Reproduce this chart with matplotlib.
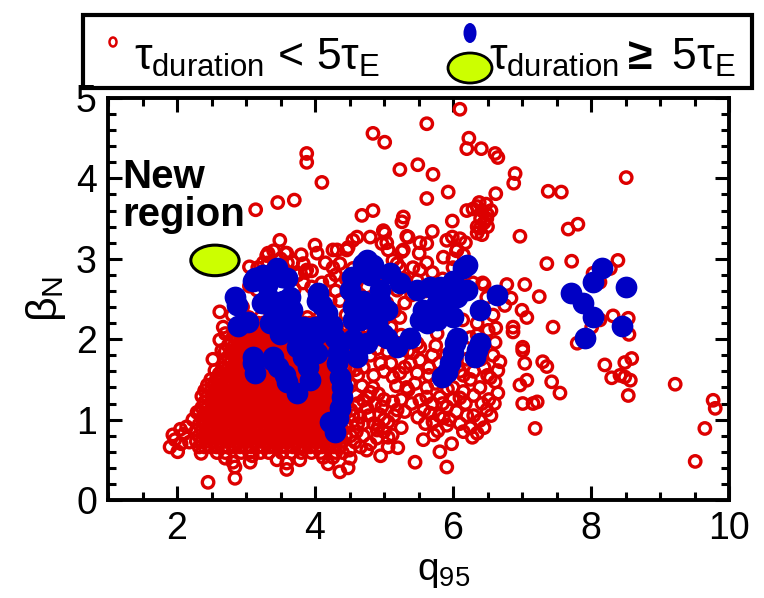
import numpy as np
import matplotlib
matplotlib.use('Agg')
import matplotlib.pyplot as plt
from matplotlib.patches import Ellipse, Rectangle
from matplotlib.ticker import MultipleLocator

plt.rcParams['font.family'] = ['Liberation Sans Narrow', 'Liberation Sans']
plt.rcParams['mathtext.fontset'] = 'custom'
plt.rcParams['mathtext.rm'] = 'Liberation Sans'
plt.rcParams['mathtext.it'] = 'Liberation Sans'
plt.rcParams['mathtext.bf'] = 'Liberation Sans:bold'

RED = '#dd0000'
BLUE = '#0000c4'
LIME = '#ccff00'

# short discharges (duration < 5 tau_E), upper part of the cloud
red_top_q = [6.10, 5.62, 6.23, 6.20, 6.41, 6.61, 6.65, 5.49, 5.71, 6.90,
             6.88, 8.51, 7.38, 7.57, 5.93, 5.62, 6.62, 6.35, 6.42, 6.50,
             6.40, 6.45, 6.38, 6.48, 6.55, 6.35, 6.42, 6.50, 6.20, 5.99,
             5.70, 5.33, 5.28, 5.28, 5.99, 6.10, 6.18, 6.05, 6.15, 6.00,
             6.35, 6.97, 7.67, 7.81, 5.23, 5.51, 5.86, 4.84, 5.01, 3.88,
             3.88, 4.10, 3.46, 3.70, 3.14, 4.68, 4.84, 5.26, 3.49, 5.35,
             4.99, 4.61, 4.80, 4.00, 4.26, 3.30, 3.57, 4.48, 5.04, 5.26,
             5.52, 4.55, 5.01, 4.97, 4.32, 4.46, 5.06, 5.62, 5.91, 6.06,
             6.29, 6.39, 6.49, 3.32, 3.59, 4.03]
red_top_b = [4.86, 4.68, 4.50, 4.37, 4.37, 4.31, 4.26, 4.17, 4.05, 4.06,
             3.94, 4.01, 3.84, 3.83, 3.83, 3.75, 3.81, 3.65, 3.60, 3.55,
             3.50, 3.45, 3.70, 3.68, 3.60, 3.40, 3.30, 3.40, 3.60, 3.47,
             3.34, 3.28, 3.52, 3.11, 3.27, 3.25, 3.20, 3.10, 3.05, 3.00,
             3.32, 3.28, 3.37, 3.43, 4.11, 3.07, 3.02, 4.56, 4.45, 4.31,
             4.20, 3.95, 3.70, 3.73, 3.61, 3.54, 3.60, 3.46, 3.23, 3.27,
             3.35, 3.27, 3.27, 3.17, 3.11, 3.04, 3.07, 3.14, 3.20, 3.09,
             3.20, 3.23, 3.32, 3.19, 3.11, 3.11, 3.11, 3.19, 3.23, 3.11,
             3.62, 3.38, 3.50, 3.07, 3.07, 3.07]

# short discharges, middle band
red_mid_q = [7.36, 7.72, 8.39, 5.70, 3.17, 3.83, 3.86, 4.36, 4.55, 5.19,
             5.42, 3.16, 2.62, 2.80, 6.00, 4.26, 4.22, 5.13, 5.23, 5.52,
             5.62, 5.48, 5.04, 5.19, 6.29, 6.43, 6.49, 6.58, 6.51, 6.62,
             6.14, 6.35, 6.25, 5.77, 5.42, 5.23, 5.04, 4.84, 4.36, 4.22,
             3.68, 3.88, 3.83, 3.05, 2.67, 2.62, 2.65, 2.70, 6.45, 6.78,
             7.04, 7.25, 6.84, 6.75, 7.00, 7.07, 8.32, 8.54, 8.55, 8.13,
             8.01, 7.45, 6.87, 6.87, 6.61, 7.01, 7.80, 8.28, 8.03, 8.13,
             6.35, 4.65, 4.75, 4.55, 4.45, 4.95, 5.30, 5.40, 5.60, 5.75,
             5.85, 6.10, 6.05, 5.95, 5.85, 6.00, 4.40, 4.45, 4.60, 4.30,
             3.32, 3.95, 3.70]
red_mid_b = [2.94, 2.97, 2.98, 2.83, 2.89, 2.94, 2.83, 2.94, 2.88, 2.94,
             2.89, 2.61, 2.34, 2.30, 2.89, 2.89, 2.73, 2.98, 2.89, 2.86,
             2.95, 2.73, 2.77, 2.61, 2.70, 2.70, 2.52, 2.30, 2.11, 2.14,
             2.24, 2.20, 2.02, 2.07, 1.99, 2.27, 2.45, 2.36, 2.48, 2.48,
             2.96, 2.86, 2.70, 2.66, 2.15, 1.99, 1.86, 2.07, 2.68, 2.68,
             2.68, 2.53, 2.51, 2.42, 2.36, 2.27, 2.29, 2.26, 2.06, 2.24,
             2.15, 2.15, 2.15, 2.09, 1.96, 1.90, 1.95, 2.88, 2.82, 2.71,
             2.05, 2.55, 2.65, 2.62, 2.75, 2.70, 2.75, 2.55, 2.60, 2.65,
             2.75, 2.75, 2.55, 2.45, 2.30, 2.25, 2.10, 2.30, 2.45, 2.60,
             2.95, 2.65, 2.62]

# short discharges, lower band and edges of the dense core
red_low_q = [7.01, 7.04, 6.68, 6.61, 6.65, 6.49, 6.39, 6.35, 5.91, 5.81,
             5.91, 5.45, 5.57, 5.72, 5.49, 7.30, 7.36, 7.43, 7.55, 7.07,
             6.97, 7.01, 7.16, 7.22, 7.19, 8.20, 8.30, 8.42, 8.49, 8.57,
             8.54, 8.49, 8.59, 9.22, 9.77, 9.80, 9.65, 9.51, 6.45, 6.65,
             4.26, 4.36, 4.48, 4.51, 4.75, 5.06, 5.06, 5.12, 5.06, 5.19,
             5.13, 4.94, 4.87, 4.80, 5.23, 5.35, 5.78, 5.86, 5.71, 5.67,
             5.62, 5.81, 5.91, 6.10, 6.00, 6.30, 6.42, 6.28, 6.52, 6.39,
             6.54, 6.58, 5.48, 5.52, 5.42, 5.52, 4.90, 4.90, 4.65, 4.70,
             4.84, 4.97, 5.13, 5.33, 5.62, 5.52, 2.55, 2.29, 1.94, 1.90,
             2.01, 1.97, 2.14, 2.23, 2.45, 2.84, 2.84, 2.81, 3.06, 3.09,
             2.70, 3.45, 3.59, 3.78, 3.59, 4.12, 4.19, 2.06, 2.10, 2.18,
             2.05, 4.45, 4.55, 4.62, 4.50, 4.60, 4.45, 4.55, 4.45, 4.60,
             4.70, 4.75, 4.85, 4.95, 5.05, 4.95, 4.85, 5.10, 5.25, 5.35,
             5.30, 5.70, 5.80, 5.95, 6.10, 6.20, 6.25, 6.15, 6.05, 6.20,
             5.95, 6.25, 5.65, 5.75, 5.85, 2.35, 2.52, 2.58]
red_low_b = [1.86, 1.70, 1.72, 1.47, 1.33, 1.12, 0.99, 0.83, 0.93, 0.60,
             0.41, 0.47, 0.75, 0.81, 1.03, 1.72, 1.66, 1.47, 1.33, 1.49,
             1.43, 1.20, 1.20, 1.22, 0.89, 1.68, 1.52, 1.55, 1.53, 1.49,
             1.30, 1.71, 1.76, 1.44, 1.24, 1.14, 0.89, 0.48, 1.65, 1.61,
             0.53, 0.35, 0.40, 0.52, 0.62, 0.66, 0.78, 0.81, 0.97, 1.12,
             1.22, 1.06, 1.20, 1.34, 1.58, 1.37, 0.86, 1.02, 0.97, 1.08,
             1.28, 1.28, 1.16, 1.27, 1.40, 1.05, 1.20, 0.78, 1.25, 1.40,
             1.52, 1.80, 1.58, 1.74, 1.83, 1.90, 0.77, 0.87, 1.03, 1.24,
             1.40, 1.16, 1.53, 1.40, 1.40, 1.24, 1.61, 1.09, 0.81, 0.66,
             0.60, 0.75, 0.91, 1.00, 0.22, 0.27, 0.41, 0.47, 0.47, 0.55,
             0.52, 0.50, 0.46, 0.50, 0.38, 0.53, 0.45, 0.70, 0.82, 0.72,
             0.88, 1.90, 1.75, 1.55, 1.45, 1.30, 1.20, 1.05, 0.90, 0.85,
             0.95, 1.15, 1.55, 1.70, 1.85, 2.00, 2.10, 2.15, 2.05, 1.85,
             1.65, 1.80, 1.70, 1.55, 1.60, 1.75, 1.50, 1.35, 1.10, 1.05,
             1.00, 0.90, 1.55, 1.45, 1.20, 0.58, 1.75, 1.52]

# short discharges crowding the q95 = 4.4-6.6 band and the top of the core
red_fill_q = [4.50, 4.58, 4.66, 4.52, 4.62, 4.70, 4.80, 4.85, 4.78, 4.92,
              5.00, 5.00, 4.92, 4.78, 4.68, 4.58, 4.70, 4.80, 4.68, 4.90,
              5.00, 5.10, 5.18, 5.25, 5.30, 5.40, 5.45, 5.38, 5.48, 5.20,
              4.52, 4.62, 4.50, 4.55, 4.48, 4.62, 4.75, 5.00, 5.15, 5.30,
              5.15, 5.25, 5.00, 4.95, 5.20, 5.58, 5.70, 5.80, 5.65, 5.75,
              5.90, 6.05, 6.15, 6.30, 6.40, 6.50, 6.30, 6.18, 6.00, 5.92,
              5.80, 6.45, 6.10, 6.55, 6.60, 5.60, 5.98, 6.15, 2.95, 3.05,
              3.25, 3.40, 3.60, 3.75, 3.95, 4.10, 4.15, 3.80, 3.50, 4.30]
red_fill_b = [0.62, 0.72, 0.66, 0.80, 0.95, 0.80, 0.70, 0.95, 1.05, 0.92,
              1.00, 1.25, 1.32, 1.28, 1.42, 1.62, 1.65, 1.80, 1.88, 1.88,
              1.60, 1.70, 1.42, 1.25, 1.10, 1.20, 1.45, 1.70, 1.95, 1.95,
              1.12, 1.20, 1.62, 1.85, 2.05, 2.12, 2.15, 2.25, 2.35, 2.45,
              1.05, 0.90, 0.85, 0.55, 0.65, 1.12, 1.20, 1.05, 1.65, 1.92,
              1.80, 1.75, 1.55, 1.60, 1.75, 1.55, 1.30, 1.20, 1.25, 1.38,
              1.55, 0.90, 0.95, 1.05, 1.20, 0.95, 0.70, 0.85, 2.40, 2.90,
              2.95, 3.10, 2.95, 2.80, 2.85, 2.70, 2.95, 3.05, 3.00, 2.80]

# dense core of short discharges: beta_N -> q95 values along that row
red_core = {
    0.59: [2.58, 2.70, 2.93, 3.05, 3.21, 3.33, 3.52, 3.66, 3.80, 3.95, 4.08, 4.30, 4.40],
    0.66: [2.32, 2.40, 2.49, 2.57, 2.66, 2.74, 2.83, 2.91, 3.00, 3.08, 3.17, 3.25, 3.34,
           3.42, 3.51, 3.59, 3.68, 3.76, 3.85, 3.93, 4.02, 4.10, 4.19, 4.27, 4.36],
    0.73: [2.28, 2.36, 2.44, 2.53, 2.61, 2.70, 2.78, 2.87, 2.95, 3.04, 3.12, 3.21, 3.29,
           3.38, 3.46, 3.55, 3.63, 3.72, 3.80, 3.89, 3.97, 4.06, 4.14, 4.23, 4.31, 4.40],
    0.80: [2.32, 2.40, 2.49, 2.57, 2.66, 2.74, 2.83, 2.91, 3.00, 3.08, 3.17, 3.25, 3.34,
           3.42, 3.51, 3.59, 3.68, 3.76, 3.85, 3.93, 4.02, 4.10, 4.19, 4.27, 4.36, 4.44],
    0.87: [2.28, 2.36, 2.44, 2.53, 2.61, 2.70, 2.78, 2.87, 2.95, 3.04, 3.12, 3.21, 3.29,
           3.38, 3.46, 3.55, 3.63, 3.72, 3.80, 3.89, 3.97, 4.06, 4.14, 4.23, 4.31, 4.40],
    0.94: [2.32, 2.40, 2.49, 2.57, 2.66, 2.74, 2.83, 2.91, 3.00, 3.08, 3.17, 3.25, 3.34,
           3.42, 3.51, 3.59, 3.68, 3.76, 3.85, 3.93, 4.02, 4.10, 4.19, 4.27, 4.36, 4.44],
    1.01: [2.36, 2.44, 2.53, 2.61, 2.70, 2.78, 2.87, 2.95, 3.04, 3.12, 3.21, 3.29,
           3.38, 3.46, 3.55, 3.63, 3.72, 3.80, 3.89, 3.97, 4.06, 4.14, 4.23, 4.31, 4.40],
    1.08: [2.32, 2.40, 2.49, 2.57, 2.66, 2.74, 2.83, 2.91, 3.00, 3.08, 3.17, 3.25, 3.34,
           3.42, 3.51, 3.59, 3.68, 3.76, 3.85, 3.93, 4.02, 4.10, 4.19, 4.27, 4.36, 4.44],
    1.15: [2.36, 2.44, 2.53, 2.61, 2.70, 2.78, 2.87, 2.95, 3.04, 3.12, 3.21, 3.29,
           3.38, 3.46, 3.55, 3.63, 3.72, 3.80, 3.89, 3.97, 4.06, 4.14, 4.23, 4.31, 4.40],
    1.22: [2.40, 2.49, 2.57, 2.66, 2.74, 2.83, 2.91, 3.00, 3.08, 3.17, 3.25, 3.34,
           3.42, 3.51, 3.59, 3.68, 3.76, 3.85, 3.93, 4.02, 4.10, 4.19, 4.27, 4.36, 4.44],
    1.29: [2.36, 2.44, 2.53, 2.61, 2.70, 2.78, 2.87, 2.95, 3.04, 3.12, 3.21, 3.29,
           3.38, 3.46, 3.55, 3.63, 3.72, 3.80, 3.89, 3.97, 4.06, 4.14, 4.23, 4.31, 4.40],
    1.36: [2.40, 2.49, 2.57, 2.66, 2.74, 2.83, 2.91, 3.00, 3.08, 3.17, 3.25, 3.34,
           3.42, 3.51, 3.59, 3.68, 3.76, 3.85, 3.93, 4.02, 4.10, 4.19, 4.27, 4.36, 4.44],
    1.43: [2.44, 2.53, 2.61, 2.70, 2.78, 2.87, 2.95, 3.04, 3.12, 3.21, 3.29,
           3.38, 3.46, 3.55, 3.63, 3.72, 3.80, 3.89, 3.97, 4.06, 4.14, 4.23, 4.31, 4.40],
    1.50: [2.49, 2.57, 2.66, 2.74, 2.83, 2.91, 3.00, 3.08, 3.17, 3.25, 3.34,
           3.42, 3.51, 3.59, 3.68, 3.76, 3.85, 3.93, 4.02, 4.10, 4.19, 4.27, 4.36, 4.44],
    1.57: [2.61, 2.70, 2.78, 2.87, 2.95, 3.04, 3.12, 3.21, 3.29,
           3.38, 3.46, 3.55, 3.63, 3.72, 3.80, 3.89, 3.97, 4.06, 4.14, 4.23, 4.31, 4.40],
    1.64: [2.66, 2.74, 2.83, 2.91, 3.00, 3.08, 3.17, 3.25, 3.34,
           3.42, 3.51, 3.59, 3.68, 3.76, 3.85, 3.93, 4.02, 4.10, 4.19, 4.27, 4.36, 4.44],
    1.71: [2.70, 2.78, 2.87, 2.95, 3.04, 3.12, 3.21, 3.29,
           3.38, 3.46, 3.55, 3.63, 3.72, 3.80, 3.89, 3.97, 4.06, 4.14, 4.23, 4.31, 4.40],
    1.78: [2.74, 2.83, 2.91, 3.00, 3.08, 3.17, 3.25, 3.34,
           3.42, 3.51, 3.59, 3.68, 3.76, 3.85, 3.93, 4.02, 4.10, 4.19, 4.27, 4.36, 4.44],
    1.85: [2.70, 2.78, 2.87, 2.95, 3.04, 3.12, 3.21, 3.29,
           3.38, 3.46, 3.55, 3.63, 3.72, 3.80, 3.89, 3.97, 4.06, 4.14, 4.23, 4.31, 4.40],
    1.92: [2.74, 2.83, 2.91, 3.00, 3.08, 3.17, 3.25, 3.34,
           3.42, 3.51, 3.59, 3.68, 3.76, 3.85, 3.93, 4.02, 4.10, 4.19, 4.27, 4.36],
    1.99: [2.78, 2.87, 2.95, 3.04, 3.12, 3.21, 3.29,
           3.38, 3.46, 3.55, 3.63, 3.72, 3.80, 3.89, 3.97, 4.06, 4.14, 4.23, 4.31],
    2.06: [2.83, 2.91, 3.00, 3.08, 3.17, 3.25, 3.34,
           3.42, 3.51, 3.59, 3.68, 3.76, 3.85, 3.93, 4.02, 4.10, 4.19, 4.27, 4.36],
    2.13: [2.87, 2.95, 3.04, 3.12, 3.21, 3.29,
           3.38, 3.46, 3.55, 3.63, 3.72, 3.80, 3.89, 3.97, 4.06, 4.14, 4.23, 4.31],
    2.20: [2.91, 3.00, 3.08, 3.17, 3.25, 3.34,
           3.42, 3.51, 3.59, 3.68, 3.76, 3.85, 3.93, 4.02, 4.10, 4.19, 4.27],
    2.27: [3.04, 3.21, 3.38, 3.55, 3.72, 3.89, 4.06, 4.23],
}

# long discharges (duration >= 5 tau_E)
blue_q = [2.84, 2.87, 2.88, 3.03, 3.13, 3.25, 3.45, 3.52, 3.59, 3.23,
          3.38, 3.54, 3.64, 3.67, 3.35, 3.49, 3.45, 3.54, 3.74, 3.83,
          4.04, 4.10, 4.00, 4.12, 3.74, 3.88, 4.03, 3.10, 3.39, 3.10,
          3.13, 3.38, 3.46, 3.57, 3.59, 3.74, 3.93, 3.90, 3.83, 3.20,
          3.10, 3.30, 3.32, 3.45, 3.64, 3.55, 3.96, 4.03, 3.88, 4.25,
          4.29, 4.33, 4.36, 4.39, 4.39, 4.36, 4.32, 4.33, 4.36, 4.29,
          4.22, 4.17, 4.22, 4.55, 4.70, 4.90, 5.04, 5.19, 5.38, 5.52,
          4.75, 4.61, 4.55, 4.70, 4.84, 4.80, 4.54, 4.51, 4.55, 4.70,
          4.94, 5.04, 4.65, 4.84, 4.90, 4.99, 4.03, 4.75, 5.09, 5.23,
          4.94, 5.48, 5.67, 5.81, 6.00, 6.14, 6.20, 5.57, 5.77, 5.91,
          6.06, 6.20, 5.62, 5.77, 6.00, 6.39, 6.64, 6.39, 6.06, 5.71,
          6.03, 6.00, 5.96, 5.91, 5.84, 6.35, 6.32, 7.71, 7.88, 8.03,
          8.16, 8.03, 8.45, 8.51, 7.91]
blue_b = [2.52, 2.42, 2.17, 2.21, 2.76, 2.80, 2.89, 2.77, 2.76, 2.45,
          2.40, 2.48, 2.52, 2.36, 2.20, 2.07, 2.20, 2.24, 2.11, 2.15,
          2.57, 2.42, 2.15, 2.11, 1.90, 1.86, 1.83, 1.78, 1.78, 1.70,
          1.58, 1.74, 1.66, 1.55, 1.47, 1.33, 1.49, 1.65, 1.78, 2.77,
          2.72, 2.68, 2.52, 2.45, 2.30, 2.10, 1.95, 2.07, 2.14, 2.18,
          0.85, 1.02, 1.15, 1.28, 1.40, 1.53, 1.70, 1.83, 1.95, 2.02,
          2.15, 2.32, 0.97, 2.24, 2.40, 2.20, 2.02, 1.90, 2.02, 2.24,
          1.95, 1.78, 2.00, 2.94, 2.92, 2.80, 2.77, 2.61, 2.40, 2.48,
          2.48, 2.36, 2.24, 2.24, 2.07, 2.07, 2.48, 2.98, 2.82, 2.70,
          2.61, 2.61, 2.65, 2.65, 2.73, 2.89, 2.92, 2.36, 2.45, 2.48,
          2.52, 2.61, 2.20, 2.24, 2.28, 2.36, 2.55, 1.95, 2.01, 2.36,
          1.95, 1.83, 1.71, 1.59, 1.53, 1.86, 1.78, 2.58, 2.45, 2.71,
          2.88, 2.27, 2.16, 2.65, 2.01]

# "new region" target point
new_q, new_b = 2.55, 2.98

core_q = [q for b, row in red_core.items() for q in row]
core_b = [b for b, row in red_core.items() for q in row]
red_q = np.concatenate([core_q, red_low_q, red_fill_q, red_mid_q, red_top_q])
red_b = np.concatenate([core_b, red_low_b, red_fill_b, red_mid_b, red_top_b])

fig = plt.figure(figsize=(7.64, 5.98), dpi=100)
ax = fig.add_axes([108 / 764, 98 / 598, 621 / 764, 402 / 598])

ax.scatter(red_q, red_b, s=68, facecolors='none', edgecolors=RED,
           linewidths=2.4, zorder=2)
ax.scatter(blue_q, blue_b, s=245, color=BLUE, linewidths=0, zorder=3)
ax.add_patch(Ellipse((new_q, new_b), 0.70, 0.38, facecolor=LIME,
                     edgecolor='black', linewidth=2.2, zorder=4))
ax.text(1.2, 4.25, 'New\nregion', fontsize=29, fontweight='bold',
        family='Liberation Sans', va='top', ha='left', linespacing=1.0,
        zorder=5)

ax.set_xlim(1, 10)
ax.set_ylim(0, 5)
ax.xaxis.set_major_locator(MultipleLocator(2))
ax.xaxis.set_minor_locator(MultipleLocator(0.5))
ax.yaxis.set_major_locator(MultipleLocator(1))
ax.yaxis.set_minor_locator(MultipleLocator(0.2))
ax.tick_params(which='both', direction='in', top=True, right=True,
               labelsize=27, width=2.2)
ax.tick_params(which='major', length=10, pad=8)
ax.tick_params(which='minor', length=6)
for sp in ax.spines.values():
    sp.set_linewidth(2.8)

ax.set_xlabel(r'q$_{95}$', fontsize=28)
ax.xaxis.set_label_coords(0.54, -0.135)
ax.set_ylabel(r'$\beta_N$', fontsize=31, labelpad=6)

# legend drawn on a pixel-coordinate overlay
lg = fig.add_axes([0, 0, 1, 1], facecolor='none')
lg.set_xlim(0, 764)
lg.set_ylim(598, 0)
lg.axis('off')
lg.add_patch(Rectangle((83, 15), 669, 73, fill=False, edgecolor='black',
                       linewidth=3.0))
lg.add_patch(Ellipse((113, 42), 7, 9, facecolor='none', edgecolor=RED,
                     linewidth=1.8))
lg.text(134, 70, r'$\tau_{\rm duration}$ < 5$\tau_{\rm E}$', fontsize=32,
        va='baseline', ha='left')
lg.add_patch(Ellipse((470, 33), 13, 20, facecolor=BLUE, edgecolor='none'))
lg.add_patch(Ellipse((470, 68), 44, 30, facecolor=LIME, edgecolor='black',
                     linewidth=2.0))
lg.text(489, 70, r'$\tau_{\rm duration}\mathbf{\geq}$ 5$\tau_{\rm E}$',
        fontsize=32, va='baseline', ha='left')

fig.savefig('out.png', dpi=100)
